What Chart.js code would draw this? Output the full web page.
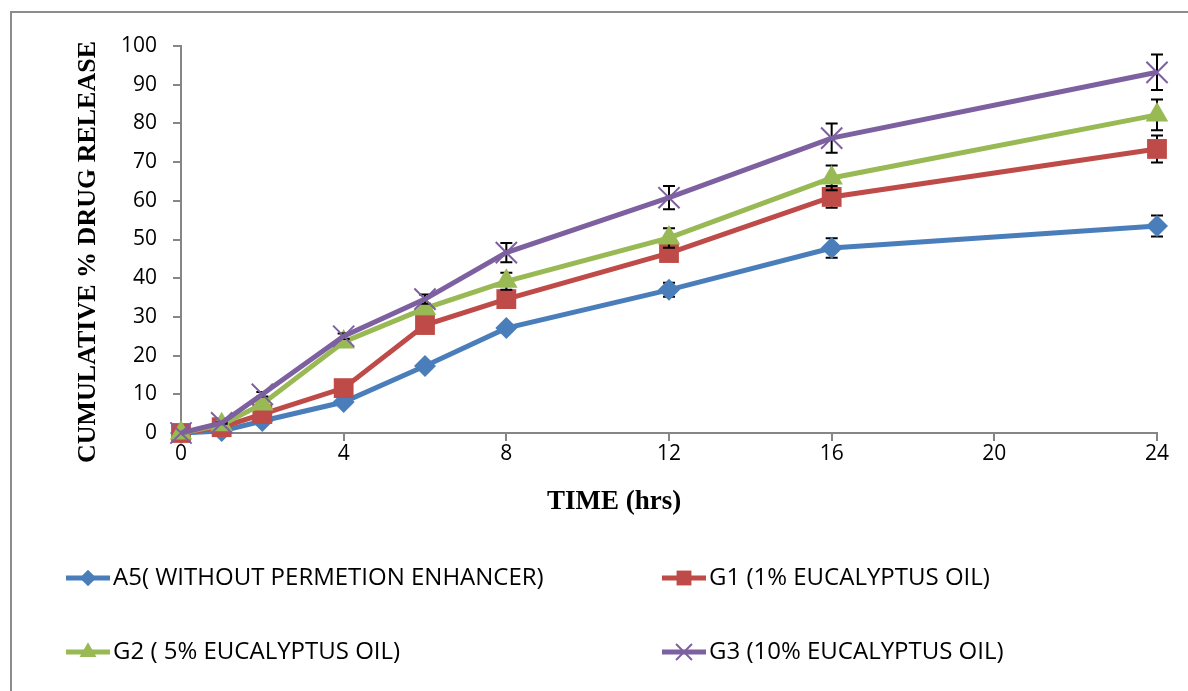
<!DOCTYPE html>
<html>
<head>
<meta charset="utf-8">
<script src="https://cdn.jsdelivr.net/npm/chart.js@4"></script>
<style>
  html, body { margin: 0; padding: 0; background: #fff; }
  body { width: 1188px; height: 691px; overflow: hidden; position: relative; }
  #frame { position: absolute; left: 10px; top: 11px; width: 1300px; height: 800px; border-left: 2px solid #8c8c8c; border-top: 2px solid #8c8c8c; }
  #wrap { position: absolute; left: 0; top: 0; width: 1188px; height: 691px; }
</style>
</head>
<body>
<div id="frame"></div>
<div id="wrap"><canvas id="myChart" width="1188" height="691"></canvas></div>
<script>
const hours = [0, 1, 2, 4, 6, 8, 12, 16, 24];
const seriesNames = ["A5( WITHOUT PERMETION ENHANCER)", "G1 (1% EUCALYPTUS OIL)", "G2 ( 5% EUCALYPTUS OIL)", "G3 (10% EUCALYPTUS OIL)"];
const a5 = [0, 0.5, 3.1, 8.0, 17.3, 27.1, 37.0, 47.8, 53.5];
const g1 = [0, 1.5, 4.9, 11.6, 27.9, 34.6, 46.5, 61.0, 73.4];
const g2 = [0, 2.1, 7.5, 23.5, 32.2, 39.2, 50.4, 65.9, 82.2];
const g3 = [0, 2.6, 10.0, 25.0, 34.6, 46.6, 60.8, 76.2, 93.2];
const a5Err = [0, 0.2, 0.3, 0.5, 0.8, 0.9, 1.8, 2.5, 2.7];
const g1Err = [0, 0.2, 0.3, 0.6, 0.8, 1.0, 1.8, 2.8, 3.5];
const g2Err = [0, 0.2, 0.3, 0.6, 0.8, 2.2, 2.5, 3.2, 4.0];
const g3Err = [0, 0.2, 0.6, 0.7, 1.2, 2.5, 3.0, 3.8, 4.6];
const yTicks = [0, 10, 20, 30, 40, 50, 60, 70, 80, 90, 100];
const xTicks = [0, 4, 8, 12, 16, 20, 24];

const colors = ['#4a7ebb', '#be4b48', '#98b954', '#7d60a0'];
const styles = ['rectRot', 'rect', 'triangle', 'crossRot'];
const radii = [11, 14, 13, 15];
const allValues = [a5, g1, g2, g3];
const allErrors = [a5Err, g1Err, g2Err, g3Err];

const datasets = allValues.map((vals, i) => ({
  label: seriesNames[i],
  data: vals.map((v, j) => ({ x: hours[j], y: v })),
  errors: allErrors[i],
  borderColor: colors[i],
  backgroundColor: colors[i],
  borderWidth: 5,
  pointStyle: styles[i],
  pointRadius: radii[i],
  pointBorderWidth: i === 3 ? 2 : 0,
  pointBackgroundColor: colors[i],
  pointBorderColor: colors[i],
  tension: 0,
  clip: false,
  order: 3 - i
}));

// black error bars, drawn just before each series so its markers sit on top
const errorBars = {
  id: 'errorBars',
  beforeDatasetDraw(chart, args) {
    const ds = chart.data.datasets[args.index];
    const ctx = chart.ctx;
    const xs = chart.scales.x, ys = chart.scales.y;
    ctx.save();
    ctx.strokeStyle = '#000';
    ctx.lineWidth = 2;
    ds.data.forEach((p, j) => {
      const e = ds.errors[j];
      if (!e) return;
      const px = xs.getPixelForValue(p.x);
      const top = ys.getPixelForValue(p.y + e);
      const bot = ys.getPixelForValue(p.y - e);
      ctx.beginPath();
      ctx.moveTo(px, top); ctx.lineTo(px, bot);
      ctx.moveTo(px - 6, top); ctx.lineTo(px + 6, top);
      ctx.moveTo(px - 6, bot); ctx.lineTo(px + 6, bot);
      ctx.stroke();
    });
    ctx.restore();
  }
};

// axis titles and bottom legend
const extras = {
  id: 'extras',
  afterDraw(chart) {
    const ctx = chart.ctx;
    ctx.save();
    ctx.fillStyle = '#000';
    ctx.font = 'bold 27px "Liberation Serif"';
    ctx.textAlign = 'center';
    ctx.textBaseline = 'middle';
    ctx.fillText('TIME (hrs)', 614, 502);
    ctx.translate(88, 252);
    ctx.rotate(-Math.PI / 2);
    ctx.font = 'bold 26px "Liberation Serif"';
    ctx.fillText('CUMULATIVE % DRUG RELEASE', 0, 0);
    ctx.restore();

    const spots = [[66, 578], [662, 578], [66, 652], [662, 652]];
    ctx.save();
    ctx.font = '24px "Open Sans"';
    ctx.textBaseline = 'middle';
    ctx.textAlign = 'left';
    spots.forEach(([lx, ly], i) => {
      ctx.strokeStyle = colors[i];
      ctx.lineWidth = 5;
      ctx.beginPath();
      ctx.moveTo(lx, ly); ctx.lineTo(lx + 44, ly);
      ctx.stroke();
      ctx.fillStyle = colors[i];
      ctx.lineWidth = 2;
      Chart.helpers.drawPoint(ctx, { pointStyle: styles[i], rotation: 0, radius: radii[i] * 0.75, borderWidth: i === 3 ? 2 : 0 }, lx + 22, ly);
      ctx.fillStyle = '#000';
      ctx.fillText(seriesNames[i], lx + 47, ly);
    });
    ctx.restore();
  }
};

new Chart(document.getElementById('myChart'), {
  type: 'line',
  data: { datasets },
  options: {
    responsive: false,
    animation: false,
    layout: { padding: { left: 0, top: 46, right: 31, bottom: 218 } },
    plugins: { legend: { display: false }, tooltip: { enabled: false } },
    scales: {
      x: {
        type: 'linear',
        min: 0,
        max: 24,
        afterBuildTicks: s => { s.ticks = xTicks.map(v => ({ value: v })); },
        afterFit: s => { s.height = 40; },
        ticks: { color: '#000', font: { family: '"Open Sans"', size: 21 }, padding: 0, maxRotation: 0 },
        grid: { drawOnChartArea: false, color: '#868686', tickLength: 8, lineWidth: 2 },
        border: { color: '#868686', width: 2 }
      },
      y: {
        min: 0,
        max: 100,
        afterBuildTicks: s => { s.ticks = yTicks.map(v => ({ value: v })); },
        afterFit: s => { s.width = 181; },
        ticks: { color: '#000', font: { family: '"Open Sans"', size: 21 }, padding: 16 },
        grid: { drawOnChartArea: false, color: '#868686', tickLength: 8, lineWidth: 2 },
        border: { color: '#868686', width: 2 }
      }
    }
  },
  plugins: [errorBars, extras]
});
</script>
</body>
</html>
